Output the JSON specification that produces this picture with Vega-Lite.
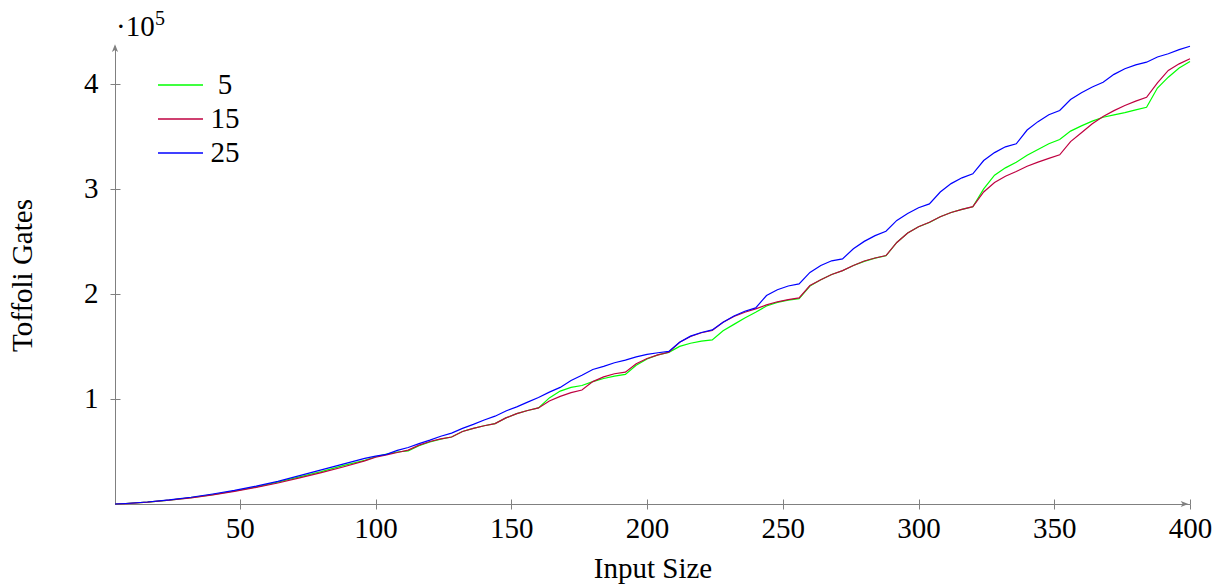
{
  "$schema": "https://vega.github.io/schema/vega-lite/v6.json",
  "width": 1075,
  "height": 458,
  "autosize": {"type": "none"},
  "padding": {"left": 115, "top": 46, "right": 38, "bottom": 84},
  "background": "white",
  "config": {
    "view": {"stroke": null},
    "font": "Liberation Serif",
    "axis": {
      "domainColor": "#808080",
      "tickColor": "#808080",
      "tickSize": 5,
      "labelFont": "Liberation Serif",
      "labelFontSize": 29,
      "labelColor": "black",
      "titleFont": "Liberation Serif",
      "titleFontSize": 29,
      "titleFontWeight": "normal",
      "titleColor": "black",
      "grid": true,
      "gridColor": "#808080",
      "gridWidth": 1,
      "labelFlush": false
    }
  },
  "datasets": {
    "gates": [
      {"n":4,"w":5,"t":0},{"n":8,"w":5,"t":480},{"n":16,"w":5,"t":1800},{"n":24,"w":5,"t":3700},{"n":32,"w":5,"t":6100},{"n":40,"w":5,"t":9000},{"n":48,"w":5,"t":12400},{"n":56,"w":5,"t":16300},{"n":64,"w":5,"t":20800},{"n":72,"w":5,"t":25800},{"n":80,"w":5,"t":30800},{"n":88,"w":5,"t":36500},{"n":96,"w":5,"t":41500},{"n":100,"w":5,"t":45000},{"n":104,"w":5,"t":47500},{"n":108,"w":5,"t":49500},{"n":112,"w":5,"t":50600},{"n":116,"w":5,"t":55500},{"n":120,"w":5,"t":59000},{"n":124,"w":5,"t":61800},{"n":128,"w":5,"t":63800},{"n":132,"w":5,"t":69000},{"n":136,"w":5,"t":72000},{"n":140,"w":5,"t":74500},{"n":144,"w":5,"t":76500},{"n":148,"w":5,"t":82000},{"n":152,"w":5,"t":86000},{"n":156,"w":5,"t":89000},{"n":160,"w":5,"t":91500},{"n":164,"w":5,"t":101000},{"n":168,"w":5,"t":107500},{"n":172,"w":5,"t":111000},{"n":176,"w":5,"t":112800},{"n":180,"w":5,"t":116500},{"n":184,"w":5,"t":119500},{"n":188,"w":5,"t":121800},{"n":192,"w":5,"t":123400},{"n":196,"w":5,"t":132000},{"n":200,"w":5,"t":138000},{"n":204,"w":5,"t":142000},{"n":208,"w":5,"t":144400},{"n":212,"w":5,"t":150000},{"n":216,"w":5,"t":153000},{"n":220,"w":5,"t":155000},{"n":224,"w":5,"t":156200},{"n":228,"w":5,"t":165000},{"n":232,"w":5,"t":171000},{"n":236,"w":5,"t":177000},{"n":240,"w":5,"t":182500},{"n":244,"w":5,"t":188500},{"n":248,"w":5,"t":192000},{"n":252,"w":5,"t":194000},{"n":256,"w":5,"t":195500},{"n":260,"w":5,"t":207500},{"n":264,"w":5,"t":213500},{"n":268,"w":5,"t":218500},{"n":272,"w":5,"t":222000},{"n":276,"w":5,"t":227000},{"n":280,"w":5,"t":231000},{"n":284,"w":5,"t":234000},{"n":288,"w":5,"t":236300},{"n":292,"w":5,"t":249000},{"n":296,"w":5,"t":258000},{"n":300,"w":5,"t":264000},{"n":304,"w":5,"t":268000},{"n":308,"w":5,"t":273500},{"n":312,"w":5,"t":277500},{"n":316,"w":5,"t":280500},{"n":320,"w":5,"t":283000},{"n":324,"w":5,"t":300000},{"n":328,"w":5,"t":313000},{"n":332,"w":5,"t":320000},{"n":336,"w":5,"t":325300},{"n":340,"w":5,"t":332000},{"n":344,"w":5,"t":337500},{"n":348,"w":5,"t":343000},{"n":352,"w":5,"t":347000},{"n":356,"w":5,"t":355000},{"n":360,"w":5,"t":360000},{"n":364,"w":5,"t":364500},{"n":368,"w":5,"t":368200},{"n":372,"w":5,"t":370500},{"n":376,"w":5,"t":372500},{"n":380,"w":5,"t":375200},{"n":384,"w":5,"t":377700},{"n":388,"w":5,"t":396000},{"n":392,"w":5,"t":406300},{"n":396,"w":5,"t":415000},{"n":400,"w":5,"t":421200},
      {"n":4,"w":15,"t":0},{"n":8,"w":15,"t":450},{"n":16,"w":15,"t":1700},{"n":24,"w":15,"t":3600},{"n":32,"w":15,"t":5900},{"n":40,"w":15,"t":8700},{"n":48,"w":15,"t":12000},{"n":56,"w":15,"t":15800},{"n":64,"w":15,"t":20000},{"n":72,"w":15,"t":24800},{"n":80,"w":15,"t":29800},{"n":88,"w":15,"t":35200},{"n":96,"w":15,"t":41000},{"n":100,"w":15,"t":44500},{"n":104,"w":15,"t":46800},{"n":108,"w":15,"t":49000},{"n":112,"w":15,"t":51300},{"n":116,"w":15,"t":56000},{"n":120,"w":15,"t":59500},{"n":124,"w":15,"t":62000},{"n":128,"w":15,"t":63800},{"n":132,"w":15,"t":69000},{"n":136,"w":15,"t":72000},{"n":140,"w":15,"t":74500},{"n":144,"w":15,"t":76500},{"n":148,"w":15,"t":82000},{"n":152,"w":15,"t":86000},{"n":156,"w":15,"t":89000},{"n":160,"w":15,"t":91500},{"n":164,"w":15,"t":98000},{"n":168,"w":15,"t":102500},{"n":172,"w":15,"t":106000},{"n":176,"w":15,"t":108500},{"n":180,"w":15,"t":116500},{"n":184,"w":15,"t":121000},{"n":188,"w":15,"t":124000},{"n":192,"w":15,"t":125500},{"n":196,"w":15,"t":133500},{"n":200,"w":15,"t":138500},{"n":204,"w":15,"t":142000},{"n":208,"w":15,"t":144400},{"n":212,"w":15,"t":154000},{"n":216,"w":15,"t":159500},{"n":220,"w":15,"t":163000},{"n":224,"w":15,"t":165200},{"n":228,"w":15,"t":173000},{"n":232,"w":15,"t":178500},{"n":236,"w":15,"t":182500},{"n":240,"w":15,"t":185700},{"n":244,"w":15,"t":189500},{"n":248,"w":15,"t":192500},{"n":252,"w":15,"t":194500},{"n":256,"w":15,"t":196200},{"n":260,"w":15,"t":208000},{"n":264,"w":15,"t":213500},{"n":268,"w":15,"t":218500},{"n":272,"w":15,"t":222200},{"n":276,"w":15,"t":227000},{"n":280,"w":15,"t":231300},{"n":284,"w":15,"t":234200},{"n":288,"w":15,"t":236500},{"n":292,"w":15,"t":249000},{"n":296,"w":15,"t":258000},{"n":300,"w":15,"t":264000},{"n":304,"w":15,"t":268200},{"n":308,"w":15,"t":273500},{"n":312,"w":15,"t":277500},{"n":316,"w":15,"t":280500},{"n":320,"w":15,"t":283100},{"n":324,"w":15,"t":297000},{"n":328,"w":15,"t":306000},{"n":332,"w":15,"t":312000},{"n":336,"w":15,"t":316500},{"n":340,"w":15,"t":321500},{"n":344,"w":15,"t":325500},{"n":348,"w":15,"t":329000},{"n":352,"w":15,"t":332400},{"n":356,"w":15,"t":345000},{"n":360,"w":15,"t":353500},{"n":364,"w":15,"t":362000},{"n":368,"w":15,"t":368900},{"n":372,"w":15,"t":374500},{"n":376,"w":15,"t":379300},{"n":380,"w":15,"t":383500},{"n":384,"w":15,"t":387200},{"n":388,"w":15,"t":401000},{"n":392,"w":15,"t":412700},{"n":396,"w":15,"t":419000},{"n":400,"w":15,"t":423800},
      {"n":4,"w":25,"t":0},{"n":8,"w":25,"t":500},{"n":16,"w":25,"t":1900},{"n":24,"w":25,"t":3900},{"n":32,"w":25,"t":6400},{"n":40,"w":25,"t":9500},{"n":48,"w":25,"t":13000},{"n":56,"w":25,"t":17000},{"n":64,"w":25,"t":21500},{"n":72,"w":25,"t":27000},{"n":80,"w":25,"t":32500},{"n":88,"w":25,"t":38000},{"n":96,"w":25,"t":43500},{"n":100,"w":25,"t":45500},{"n":104,"w":25,"t":47300},{"n":108,"w":25,"t":51000},{"n":112,"w":25,"t":53800},{"n":116,"w":25,"t":57500},{"n":120,"w":25,"t":60800},{"n":124,"w":25,"t":64500},{"n":128,"w":25,"t":67500},{"n":132,"w":25,"t":72000},{"n":136,"w":25,"t":75800},{"n":140,"w":25,"t":80000},{"n":144,"w":25,"t":83600},{"n":148,"w":25,"t":88500},{"n":152,"w":25,"t":92500},{"n":156,"w":25,"t":97000},{"n":160,"w":25,"t":101400},{"n":164,"w":25,"t":106500},{"n":168,"w":25,"t":111000},{"n":172,"w":25,"t":117500},{"n":176,"w":25,"t":122500},{"n":180,"w":25,"t":128000},{"n":184,"w":25,"t":131000},{"n":188,"w":25,"t":134500},{"n":192,"w":25,"t":137000},{"n":196,"w":25,"t":140000},{"n":200,"w":25,"t":142500},{"n":204,"w":25,"t":144000},{"n":208,"w":25,"t":145300},{"n":212,"w":25,"t":154000},{"n":216,"w":25,"t":159800},{"n":220,"w":25,"t":163300},{"n":224,"w":25,"t":165700},{"n":228,"w":25,"t":173000},{"n":232,"w":25,"t":179000},{"n":236,"w":25,"t":183500},{"n":240,"w":25,"t":186700},{"n":244,"w":25,"t":198500},{"n":248,"w":25,"t":204000},{"n":252,"w":25,"t":207500},{"n":256,"w":25,"t":209500},{"n":260,"w":25,"t":220500},{"n":264,"w":25,"t":227000},{"n":268,"w":25,"t":231500},{"n":272,"w":25,"t":233300},{"n":276,"w":25,"t":243000},{"n":280,"w":25,"t":250000},{"n":284,"w":25,"t":255500},{"n":288,"w":25,"t":259700},{"n":292,"w":25,"t":270000},{"n":296,"w":25,"t":276500},{"n":300,"w":25,"t":282000},{"n":304,"w":25,"t":285700},{"n":308,"w":25,"t":297000},{"n":312,"w":25,"t":305000},{"n":316,"w":25,"t":310500},{"n":320,"w":25,"t":314300},{"n":324,"w":25,"t":327000},{"n":328,"w":25,"t":334500},{"n":332,"w":25,"t":340000},{"n":336,"w":25,"t":342900},{"n":340,"w":25,"t":356000},{"n":344,"w":25,"t":364000},{"n":348,"w":25,"t":370500},{"n":352,"w":25,"t":374600},{"n":356,"w":25,"t":385000},{"n":360,"w":25,"t":391500},{"n":364,"w":25,"t":397000},{"n":368,"w":25,"t":401500},{"n":372,"w":25,"t":409000},{"n":376,"w":25,"t":414300},{"n":380,"w":25,"t":418000},{"n":384,"w":25,"t":420600},{"n":388,"w":25,"t":425500},{"n":392,"w":25,"t":428600},{"n":396,"w":25,"t":432500},{"n":400,"w":25,"t":435800}
    ],
    "one": [{"k": 1}]
  },
  "layer": [
    {
      "data": {"name": "gates"},
      "mark": {"type": "line", "strokeWidth": 1.2},
      "encoding": {
        "x": {
          "field": "n", "type": "quantitative",
          "scale": {"domain": [4, 400], "nice": false, "zero": false},
          "axis": {"title": "Input Size", "values": [50,100,150,200,250,300,350,400], "labelPadding": 5, "titlePadding": 11, "gridDash": [0, 453, 5, 3000]}
        },
        "y": {
          "field": "t", "type": "quantitative",
          "scale": {"domain": [0, 436000], "nice": false},
          "axis": {"title": "Toffoli Gates", "values": [100000,200000,300000,400000], "labelExpr": "datum.value / 100000", "labelPadding": 12, "titlePadding": 46, "gridDash": [5, 3000]}
        },
        "color": {
          "field": "w", "type": "nominal",
          "scale": {"domain": [5, 15, 25], "range": ["#00ff00", "#bf0040", "#0000ff"]},
          "legend": {
            "title": null, "orient": "none", "legendX": 42, "legendY": 23,
            "symbolType": "stroke", "symbolSize": 2025, "symbolStrokeWidth": 1.3,
            "labelFont": "Liberation Serif", "labelFontSize": 29, "labelColor": "black",
            "labelAlign": "center", "labelOffset": 21, "rowPadding": 3, "padding": 0,
            "encode": {
              "symbols": {"update": {"stroke": {"scale": "color", "field": "value"}, "opacity": {"value": 1}, "y": {"value": 16}}},
              "labels": {"update": {"y": {"value": 16}}}
            }
          }
        }
      }
    },
    {
      "data": {"name": "one"},
      "mark": {"type": "point", "shape": "M1,0L-1,-0.8L-0.5,0L-1,0.8Z", "filled": true, "color": "#808080", "size": 60, "opacity": 1},
      "encoding": {"x": {"datum": 398}, "y": {"datum": 0}}
    },
    {
      "data": {"name": "one"},
      "mark": {"type": "point", "shape": "M0,-1L-0.8,1L0,0.5L0.8,1Z", "filled": true, "color": "#808080", "size": 60, "opacity": 1},
      "encoding": {"x": {"datum": 4}, "y": {"datum": 434000}}
    },
    {
      "data": {"name": "one"},
      "mark": {"type": "text", "text": "·10", "align": "left", "baseline": "alphabetic", "dx": 1, "dy": -10, "font": "Liberation Serif", "fontSize": 29, "color": "black"},
      "encoding": {"x": {"datum": 4}, "y": {"datum": 436000}}
    },
    {
      "data": {"name": "one"},
      "mark": {"type": "text", "text": "5", "align": "left", "baseline": "alphabetic", "dx": 40, "dy": -21, "font": "Liberation Serif", "fontSize": 20, "color": "black"},
      "encoding": {"x": {"datum": 4}, "y": {"datum": 436000}}
    }
  ]
}
